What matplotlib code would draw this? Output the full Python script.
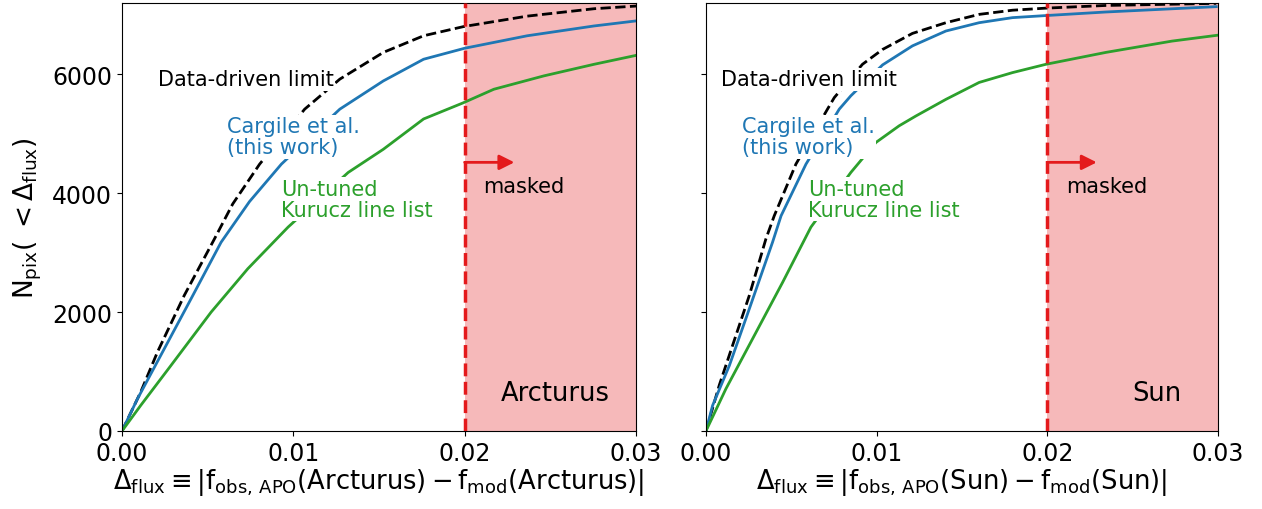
import matplotlib
matplotlib.use("Agg")
import matplotlib.pyplot as plt
from matplotlib.ticker import FormatStrFormatter

plt.rcParams['font.family'] = ['DejaVu Sans']
plt.rcParams['mathtext.default'] = 'regular'

# ---------------- data ----------------
# Arcturus panel
arc_limit_x = [0, 0.00109, 0.00207, 0.00363, 0.00539, 0.00646, 0.00803, 0.01066, 0.01174, 0.01271,
               0.01525, 0.0176, 0.01994, 0.02364, 0.02755, 0.03]
arc_limit_n = [0, 655, 1330, 2280, 3230, 3820, 4490, 5415, 5680, 5920,
               6370, 6650, 6805, 6980, 7105, 7150]
arc_cargile_x = [0, 0.0009, 0.00246, 0.00402, 0.00578, 0.00744, 0.0093, 0.01271, 0.01525, 0.0176,
                 0.0200, 0.02365, 0.02755, 0.03]
arc_cargile_n = [0, 540, 1380, 2220, 3175, 3860, 4490, 5415, 5890, 6255,
                 6440, 6650, 6815, 6900]
arc_kurucz_x = [0, 0.00109, 0.00285, 0.0052, 0.00734, 0.00969, 0.0132, 0.01525, 0.0176, 0.0199,
                0.0217, 0.02462, 0.02755, 0.03]
arc_kurucz_n = [0, 430, 1100, 2000, 2730, 3430, 4350, 4740, 5250, 5520,
                5750, 5975, 6170, 6320]

# Sun panel
sun_limit_x = [0, 0.00078, 0.00156, 0.00254, 0.00351, 0.0040, 0.00527, 0.00712, 0.00752, 0.00917,
               0.01035, 0.0121, 0.01406, 0.01601, 0.01796, 0.01992, 0.02343, 0.0299]
sun_limit_n = [0, 770, 1440, 2280, 3230, 3620, 4490, 5415, 5610, 6170,
               6420, 6690, 6870, 7010, 7080, 7115, 7160, 7195]
sun_cargile_x = [0, 0.00039, 0.00137, 0.00254, 0.0039, 0.0044, 0.00586, 0.00781, 0.00849, 0.01035,
                 0.0121, 0.01406, 0.01601, 0.01796, 0.01992, 0.02343, 0.0299]
sun_cargile_n = [0, 430, 1100, 2055, 3175, 3620, 4490, 5415, 5640, 6160,
                 6480, 6730, 6870, 6955, 6990, 7050, 7140]
sun_kurucz_x = [0, 0.00117, 0.00273, 0.00449, 0.00615, 0.00849, 0.00996, 0.01132, 0.0123, 0.01406,
                0.01601, 0.01796, 0.01992, 0.02343, 0.0273, 0.03]
sun_kurucz_n = [0, 710, 1550, 2500, 3430, 4350, 4855, 5135, 5300, 5580,
                5865, 6030, 6170, 6370, 6560, 6660]

stars = ['Arcturus', 'Sun']
mask_edge = 0.02
xmax = 0.03
ymax = 7200
xticks = [0.00, 0.01, 0.02, 0.03]
yticks = [0, 2000, 4000, 6000]

panels = [
    dict(star='Arcturus',
         limit=(arc_limit_x, arc_limit_n), cargile=(arc_cargile_x, arc_cargile_n),
         kurucz=(arc_kurucz_x, arc_kurucz_n),
         pos_limit=(0.0021, 5920), pos_cargile=(0.0061, 4950), pos_kurucz=(0.00926, 3900),
         pos_name=(0.0253, 645)),
    dict(star='Sun',
         limit=(sun_limit_x, sun_limit_n), cargile=(sun_cargile_x, sun_cargile_n),
         kurucz=(sun_kurucz_x, sun_kurucz_n),
         pos_limit=(0.0009, 5920), pos_cargile=(0.0021, 4950), pos_kurucz=(0.0060, 3900),
         pos_name=(0.0264, 645)),
]

RED = '#e41a1c'
fig = plt.figure(figsize=(12.62, 5.10), dpi=100)
ax1 = fig.add_axes([0.0967, 0.153, 0.4073, 0.839])
ax2 = fig.add_axes([0.5594, 0.153, 0.4057, 0.839], sharey=ax1)
axes = [ax1, ax2]

box = dict(facecolor='white', edgecolor='none', pad=1.0)
for ax, p in zip(axes, panels):
    ax.axvspan(mask_edge, xmax, color=RED, alpha=0.3, lw=0, zorder=0)
    ax.plot(*p['limit'], color='black', ls='--', lw=2, zorder=2)
    ax.plot(*p['cargile'], color='C0', lw=2, zorder=2)
    ax.plot(*p['kurucz'], color='C2', lw=2, zorder=2)
    ax.axvline(mask_edge, color=RED, ls='--', lw=2.5, zorder=3)

    ax.text(*p['pos_limit'], 'Data-driven limit', color='black', fontsize=15,
            va='center', ha='left', bbox=box, zorder=4)
    ax.text(*p['pos_cargile'], 'Cargile et al.\n(this work)', color='C0', fontsize=15,
            va='center', ha='left', bbox=box, zorder=4, linespacing=1.05)
    ax.text(*p['pos_kurucz'], 'Un-tuned\nKurucz line list', color='C2', fontsize=15,
            va='center', ha='left', bbox=box, zorder=4, linespacing=1.05)

    ax.annotate('', xy=(0.0229, 4520), xytext=(mask_edge, 4520),
                arrowprops=dict(arrowstyle='-|>,head_width=0.45,head_length=0.9',
                                color=RED, lw=2, shrinkA=0, shrinkB=0), zorder=4)
    ax.text(0.0211, 4120, 'masked', fontsize=15, va='center', ha='left', zorder=4)
    ax.text(*p['pos_name'], p['star'], fontsize=18.5, va='center', ha='center', zorder=4)

    ax.set_xlim(0, xmax)
    ax.set_ylim(0, ymax)
    ax.set_xticks(xticks)
    ax.xaxis.set_major_formatter(FormatStrFormatter('%.2f'))
    ax.set_yticks(yticks)
    ax.tick_params(labelsize=17)
    s = p['star']
    ax.set_xlabel(r'$\Delta_{flux} \equiv |f_{obs,\,APO}(%s) - f_{mod}(%s)|$' % (s, s),
                  fontsize=18.5, labelpad=1)

ax1.set_ylabel(r'$N_{pix}(\; < \Delta_{flux})$', fontsize=19, labelpad=6)
ax2.tick_params(labelleft=False)

fig.savefig('out.png', dpi=100)
